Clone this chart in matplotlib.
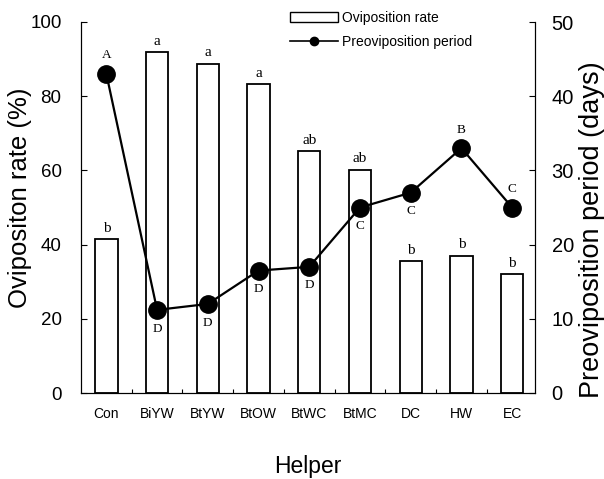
import matplotlib
matplotlib.use("Agg")
import matplotlib.pyplot as plt
from matplotlib.lines import Line2D
from matplotlib.patches import Patch
import numpy as np

categories = ["Con", "BiYW", "BtYW", "BtOW", "BtWC", "BtMC", "DC", "HW", "EC"]
oviposition_rate = [41.5, 91.8, 88.8, 83.3, 65.2, 60.2, 35.5, 37.0, 32.0]
preoviposition_period = [43.0, 11.2, 12.0, 16.5, 17.0, 25.0, 27.0, 33.0, 25.0]
bar_letters = ["b", "a", "a", "a", "ab", "ab", "b", "b", "b"]
line_letters = ["A", "D", "D", "D", "D", "C", "C", "B", "C"]
line_letter_above = [True, False, False, False, False, False, False, True, True]

sans = "Liberation Sans"
serif = "Liberation Serif"

fig = plt.figure(figsize=(6.04, 4.79), dpi=100)
ax = fig.add_axes([81/604, 1-393/479, (535-81)/604, (393-22)/479])
x = np.arange(len(categories))

ax.bar(x, oviposition_rate, width=0.44, facecolor="white", edgecolor="black", linewidth=1.3, zorder=2)
ax.set_xlim(-0.5, 8.45)
ax.set_ylim(0, 100)
ax.set_yticks([0, 20, 40, 60, 80, 100])
ax.set_xticks(x)
ax.set_xticklabels(categories, fontsize=10, family=sans)
ax.set_xticks(x[:-1] + 0.5, minor=True)
ax.tick_params(axis="x", which="major", length=0, pad=10)
ax.tick_params(axis="x", which="minor", length=3, direction="in", width=0.8)
ax.tick_params(axis="y", direction="in", length=4, width=0.8, labelsize=13.5, pad=14)
for lab in ax.get_yticklabels():
    lab.set_family(sans)
ax.spines["top"].set_visible(False)
for s in ["left", "bottom", "right"]:
    ax.spines[s].set_linewidth(0.8)
ax.set_ylabel("Ovipositon rate (%)", fontsize=18.5, family=sans, va="center", ha="center")
ax.yaxis.set_label_coords(-0.134, 0.526)
ax.set_xlabel("Helper", fontsize=16.5, family=sans, va="center", ha="center")
ax.xaxis.set_label_coords(0.5, (393-466)/371)

for xi, v, t in zip(x, oviposition_rate, bar_letters):
    ax.text(xi, v + 1.2, t, ha="center", va="bottom", fontsize=11, family=serif)

ax2 = ax.twinx()
ax2.plot(x, preoviposition_period, color="black", linewidth=1.6, marker="o", markersize=12.5, zorder=3)
ax2.set_ylim(0, 50)
ax2.set_yticks([0, 10, 20, 30, 40, 50])
ax2.tick_params(axis="y", direction="in", length=4, width=0.8, labelsize=14.5, pad=12)
for lab in ax2.get_yticklabels():
    lab.set_family(sans)
ax2.spines["top"].set_visible(False)
ax2.spines["right"].set_linewidth(0.8)
ax2.set_ylabel("Preoviposition period (days)", fontsize=19.5, family=sans, va="center", ha="center")
ax2.yaxis.set_label_coords(1.1256, 0.439)

for xi, v, t, up in zip(x, preoviposition_period, line_letters, line_letter_above):
    if up:
        ax2.text(xi, v + 1.7, t, ha="center", va="bottom", fontsize=9.5, family=serif)
    else:
        ax2.text(xi, v - 1.7, t, ha="center", va="top", fontsize=9.5, family=serif)

handles = [Patch(facecolor="white", edgecolor="black", linewidth=1.0),
           Line2D([0], [0], color="black", linewidth=1.2, marker="o", markersize=6)]
leg = ax2.legend(handles, ["Oviposition rate", "Preoviposition period"], loc="upper left",
                 bbox_to_anchor=(0.449, 1.045), frameon=False,
                 prop={"family": sans, "size": 10}, handlelength=3.4, handletextpad=0.3,
                 labelspacing=0.75, borderaxespad=0)

fig.savefig("out.png", dpi=100)
